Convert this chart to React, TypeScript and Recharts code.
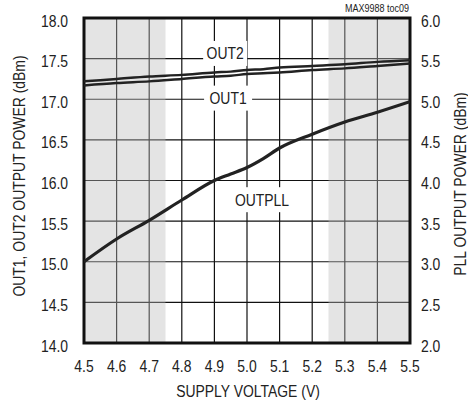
import React from "react";
import {
  LineChart,
  Line,
  XAxis,
  YAxis,
  CartesianGrid,
  ReferenceArea,
  ReferenceDot,
} from "recharts";

const voltage = [4.5, 4.6, 4.7, 4.8, 4.9, 4.95, 5.0, 5.05, 5.1, 5.2, 5.3, 5.4, 5.5];
const out1 = [17.17, 17.2, 17.22, 17.25, 17.28, 17.29, 17.31, 17.32, 17.33, 17.36, 17.38, 17.41, 17.44];
const out2 = [17.22, 17.25, 17.28, 17.3, 17.33, 17.34, 17.36, 17.37, 17.39, 17.41, 17.43, 17.46, 17.48];
const outpll = [3.0, 3.28, 3.51, 3.76, 4.0, 4.08, 4.16, 4.27, 4.4, 4.57, 4.72, 4.84, 4.97];

const xTicks = [4.5, 4.6, 4.7, 4.8, 4.9, 5.0, 5.1, 5.2, 5.3, 5.4, 5.5];
const leftTicks = [14, 14.5, 15, 15.5, 16, 16.5, 17, 17.5, 18];
const rightTicks = [2, 2.5, 3, 3.5, 4, 4.5, 5, 5.5, 6];
const shadeBands = [
  [4.5, 4.75],
  [5.25, 5.5],
];
const seriesLabels = [
  { text: "OUT2", x: 4.933, y: 17.57, w: 44 },
  { text: "OUT1", x: 4.942, y: 17.02, w: 48 },
  { text: "OUTPLL", x: 5.046, y: 15.77, w: 62 },
];
const xTitle = "SUPPLY VOLTAGE (V)";
const leftTitle = "OUT1, OUT2 OUTPUT POWER (dBm)";
const rightTitle = "PLL OUTPUT POWER (dBm)";
const noteText = "MAX9988 toc09";

const data = voltage.map((v, i) => ({
  v,
  out1: out1[i],
  out2: out2[i],
  pll: outpll[i],
}));

const FONT = "'Liberation Sans', Arial, sans-serif";
const SQUEEZE = 0.82;

function NText(props: {
  x: number;
  y: number;
  anchor?: "start" | "middle" | "end";
  size?: number;
  rotate?: number;
  children: React.ReactNode;
}) {
  const { x, y, anchor = "middle", size = 17, rotate = 0, children } = props;
  return (
    <text
      transform={`translate(${x},${y}) rotate(${rotate}) scale(${SQUEEZE},1)`}
      x={0}
      y={0}
      textAnchor={anchor}
      fontFamily={FONT}
      fontSize={size}
      fill="#222"
    >
      {children}
    </text>
  );
}

const fmt = (t: number) => t.toFixed(1);

const makeLabel = (text: string, w: number) => (props: any) => {
  const vb = props.viewBox || {};
  const cx = vb.x + (vb.width || 0) / 2;
  const cy = vb.y + (vb.height || 0) / 2;
  return (
    <g>
      <rect x={cx - w / 2} y={cy - 12} width={w} height={25} fill="#fff" />
      <NText x={cx} y={cy + 6.5}>{text}</NText>
    </g>
  );
};

export default function App() {
  return (
    <div style={{ position: "absolute", left: 0, top: 0, width: 468, height: 400, background: "#fff" }}>
      <LineChart
        width={468}
        height={400}
        data={data}
        margin={{ top: 18, right: 0, bottom: 0, left: 0 }}
      >
        <CartesianGrid stroke="#111" strokeWidth={1.2} yAxisId="left" />
        <XAxis
          dataKey="v"
          type="number"
          domain={[4.5, 5.5]}
          ticks={xTicks}
          axisLine={false}
          tickLine={false}
          height={57}
          allowDataOverflow
          tick={(p: any) => (
            <NText x={p.x} y={372}>{fmt(p.payload.value)}</NText>
          )}
        />
        <YAxis
          yAxisId="left"
          domain={[14, 18]}
          ticks={leftTicks}
          axisLine={false}
          tickLine={false}
          width={84}
          allowDataOverflow
          tick={(p: any) => (
            <NText x={68} y={p.y + 8.5} anchor="end">{fmt(p.payload.value)}</NText>
          )}
        />
        <YAxis
          yAxisId="right"
          orientation="right"
          domain={[2, 6]}
          ticks={rightTicks}
          axisLine={false}
          tickLine={false}
          width={58}
          allowDataOverflow
          tick={(p: any) => (
            <NText x={421} y={p.y + 8.5} anchor="start">{fmt(p.payload.value)}</NText>
          )}
        />
        {shadeBands.map((b, i) => (
          <ReferenceArea
            key={i}
            yAxisId="left"
            x1={b[0]}
            x2={b[1]}
            y1={14}
            y2={18}
            fill="#bbb"
            fillOpacity={0.4}
            stroke="none"
          />
        ))}
        {seriesLabels.map((l) => (
          <ReferenceDot
            key={l.text}
            yAxisId="left"
            x={l.x}
            y={l.y}
            r={0}
            fill="none"
            stroke="none"
            label={makeLabel(l.text, l.w)}
          />
        ))}
        <Line
          yAxisId="left"
          type="monotone"
          dataKey="out2"
          stroke="#222"
          strokeWidth={2.5}
          dot={false}
          isAnimationActive={false}
        />
        <Line
          yAxisId="left"
          type="monotone"
          dataKey="out1"
          stroke="#222"
          strokeWidth={2.5}
          dot={false}
          isAnimationActive={false}
        />
        <Line
          yAxisId="right"
          type="monotone"
          dataKey="pll"
          stroke="#222"
          strokeWidth={3.2}
          dot={false}
          isAnimationActive={false}
        />
        <ReferenceArea
          yAxisId="left"
          x1={4.5}
          x2={5.5}
          y1={14}
          y2={18}
          fill="none"
          stroke="#111"
          strokeWidth={3}
        />
        <NText x={248} y={397}>{xTitle}</NText>
        <NText x={24.5} y={176} rotate={-90}>{leftTitle}</NText>
        <NText x={466} y={184} rotate={-90}>{rightTitle}</NText>
        <NText x={409} y={12} anchor="end" size={11}>{noteText}</NText>
      </LineChart>
    </div>
  );
}
